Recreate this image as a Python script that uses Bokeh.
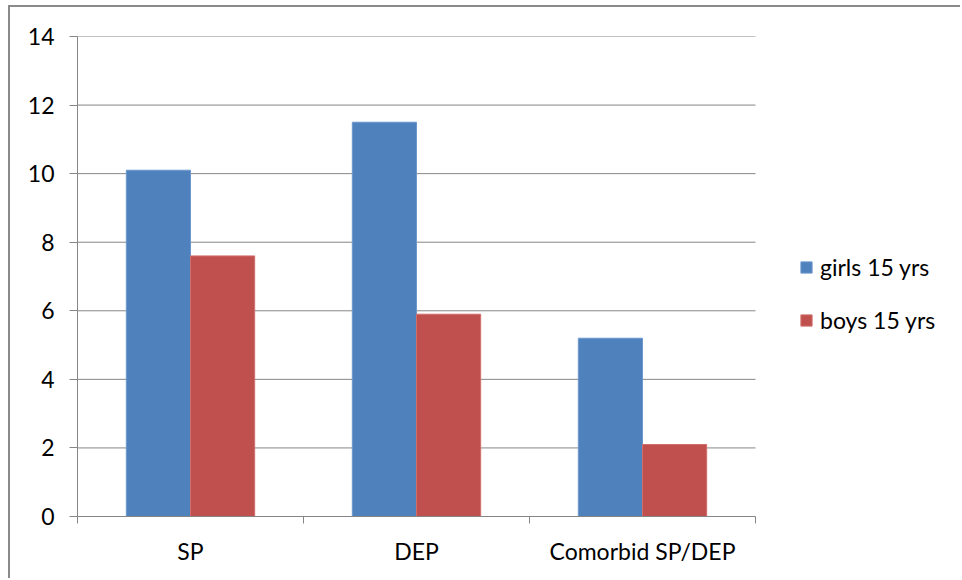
from bokeh.plotting import figure
from bokeh.models import FixedTicker, Legend, LegendItem, Range1d, ColumnDataSource
from bokeh.embed import file_html
from bokeh.resources import INLINE

categories = ["SP", "DEP", "Comorbid SP/DEP"]
girls = [10.1, 11.5, 5.2]
boys = [7.6, 5.9, 2.1]
series_names = ["girls 15 yrs", "boys 15 yrs"]
y_ticks = [0, 2, 4, 6, 8, 10, 12, 14]

BLUE = "#4F81BD"
RED = "#C0504D"
GREY = "#868686"
FONT = "Lato"
FS = "23px"

n = len(categories)
bw = 0.284
idx = list(range(n))
centers = [i + 0.5 for i in idx]

W, H = 952, 573
LEFT, TOP, BOTTOM = 67, 29, 64
PLOT_W = 678                      # pixel width of the category area
FRAME_W = W - LEFT
x_end = n * FRAME_W / PLOT_W      # extend frame so the legend fits inside it

p = figure(width=W, height=H, output_backend="svg", toolbar_location=None,
           x_range=Range1d(0, x_end), y_range=Range1d(0, 14),
           min_border_left=LEFT, min_border_right=0, min_border_top=TOP, min_border_bottom=BOTTOM)
p.styles = {"border-top": "2px solid #8a8a8a", "border-left": "2px solid #8a8a8a",
            "margin-left": "8px", "margin-top": "5px"}
p.outline_line_color = None
p.background_fill_color = "white"
p.border_fill_color = "white"

# horizontal gridlines limited to the category area
p.segment(x0=[0] * len(y_ticks), x1=[n] * len(y_ticks), y0=y_ticks, y1=y_ticks,
          line_color=GREY, line_width=1)

src_g = ColumnDataSource(dict(x=[c - bw / 2 for c in centers], top=girls))
src_b = ColumnDataSource(dict(x=[c + bw / 2 for c in centers], top=boys))
rg = p.vbar(x="x", top="top", width=bw, source=src_g, fill_color=BLUE, line_color="#6d98cc", line_width=1)
rb = p.vbar(x="x", top="top", width=bw, source=src_b, fill_color=RED, line_color="#cf6e6b", line_width=1)

# y axis
p.yaxis.ticker = FixedTicker(ticks=y_ticks)
p.yaxis.axis_line_color = GREY
p.yaxis.major_tick_line_color = GREY
p.yaxis.major_tick_out = 8
p.yaxis.major_tick_in = 0
p.yaxis.minor_tick_line_color = None
p.yaxis.major_label_standoff = 15
p.yaxis.major_label_text_font = FONT
p.yaxis.major_label_text_font_size = FS
p.yaxis.major_label_text_color = "black"

# x axis
p.xaxis.ticker = FixedTicker(ticks=centers, minor_ticks=[0] + [i + 1 for i in idx])
p.xaxis.major_label_overrides = {c: cat for c, cat in zip(centers, categories)}
p.xaxis.bounds = (0, n)
p.xaxis.axis_line_color = GREY
p.xaxis.major_tick_line_color = None
p.xaxis.major_tick_out = 0
p.xaxis.major_tick_in = 0
p.xaxis.minor_tick_line_color = GREY
p.xaxis.minor_tick_out = 7
p.xaxis.minor_tick_in = 0
p.xaxis.major_label_standoff = 13
p.xaxis.major_label_text_font = FONT
p.xaxis.major_label_text_font_size = FS
p.xaxis.major_label_text_color = "black"

p.xgrid.grid_line_color = None
p.ygrid.grid_line_color = None

legend = Legend(items=[LegendItem(label=series_names[0], renderers=[rg]),
                       LegendItem(label=series_names[1], renderers=[rb])],
                location=(722, 182), orientation="vertical")
legend.border_line_color = None
legend.background_fill_alpha = 0
legend.padding = 0
legend.margin = 0
legend.glyph_width = 14
legend.glyph_height = 14
legend.label_height = 24
legend.spacing = 25
legend.label_standoff = 7
legend.label_text_font = FONT
legend.label_text_font_size = FS
legend.label_text_color = "black"
p.add_layout(legend, "center")

open("out.html", "w").write(file_html(p, INLINE))
